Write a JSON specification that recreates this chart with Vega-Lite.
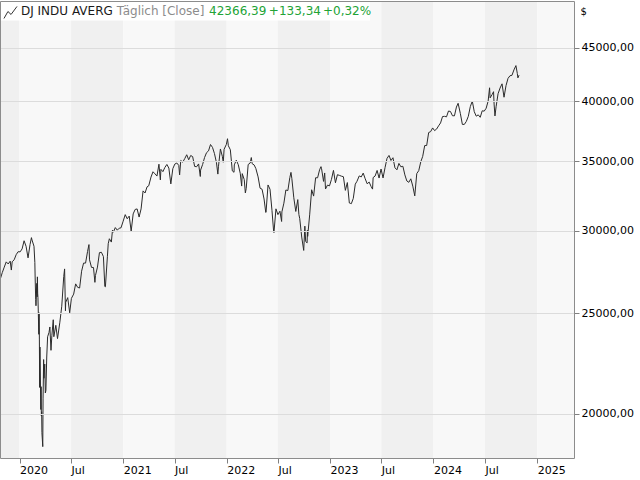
{
  "$schema": "https://vega.github.io/schema/vega-lite/v6.json",
  "width": 574,
  "height": 457,
  "autosize": "none",
  "padding": {"left": 0, "top": 1, "right": 66, "bottom": 22},
  "background": "white",
  "config": {
    "view": {"stroke": null},
    "font": "DejaVu Sans",
    "axis": {"labelFont": "DejaVu Sans", "labelFontSize": 11, "labelColor": "#000000", "titleFont": "DejaVu Sans"}
  },
  "resolve": {"axis": {"x": "independent", "y": "independent"}},
  "layer": [
    {
      "data": {"values": [
        {"s": "2019-07-01", "e": "2020-01-01", "k": "dark"},
        {"s": "2020-01-01", "e": "2020-07-01", "k": "light"},
        {"s": "2020-07-01", "e": "2021-01-01", "k": "dark"},
        {"s": "2021-01-01", "e": "2021-07-01", "k": "light"},
        {"s": "2021-07-01", "e": "2022-01-01", "k": "dark"},
        {"s": "2022-01-01", "e": "2022-07-01", "k": "light"},
        {"s": "2022-07-01", "e": "2023-01-01", "k": "dark"},
        {"s": "2023-01-01", "e": "2023-07-01", "k": "light"},
        {"s": "2023-07-01", "e": "2024-01-01", "k": "dark"},
        {"s": "2024-01-01", "e": "2024-07-01", "k": "light"},
        {"s": "2024-07-01", "e": "2025-01-01", "k": "dark"},
        {"s": "2025-01-01", "e": "2025-07-01", "k": "light"}
      ]},
      "mark": {"type": "rect", "clip": true},
      "encoding": {
        "x": {"field": "s", "type": "temporal", "axis": null},
        "x2": {"field": "e"},
        "color": {"field": "k", "type": "nominal", "scale": {"domain": ["dark", "light"], "range": ["#f0f0f0", "#f8f8f8"]}, "legend": null}
      }
    },
    {
      "data": {"values": [{"a": "2019-10-01", "b": "2023-05-22", "lo": 47820, "hi": 60000}]},
      "mark": {"type": "rect", "clip": true, "color": "white"},
      "encoding": {
        "x": {"field": "a", "type": "temporal", "axis": null},
        "x2": {"field": "b"},
        "y": {"field": "lo", "type": "quantitative", "axis": null},
        "y2": {"field": "hi"}
      }
    },
    {
      "data": {"values": [
        {"d":"2019-10-24","v":26806},{"d":"2019-10-25","v":26958},{"d":"2019-11-01","v":27347},{"d":"2019-11-08","v":27681},
        {"d":"2019-11-15","v":28005},{"d":"2019-11-22","v":27876},{"d":"2019-11-29","v":28051},{"d":"2019-12-03","v":27503},
        {"d":"2019-12-06","v":28015},{"d":"2019-12-13","v":28135},{"d":"2019-12-20","v":28455},{"d":"2019-12-27","v":28645},
        {"d":"2020-01-03","v":28634},{"d":"2020-01-10","v":28824},{"d":"2020-01-17","v":29348},{"d":"2020-01-24","v":28990},
        {"d":"2020-01-31","v":28256},{"d":"2020-02-07","v":29103},{"d":"2020-02-12","v":29551},{"d":"2020-02-14","v":29398},
        {"d":"2020-02-21","v":28992},{"d":"2020-02-24","v":27961},{"d":"2020-02-25","v":27081},{"d":"2020-02-27","v":25767},
        {"d":"2020-02-28","v":25409},{"d":"2020-03-02","v":26703},{"d":"2020-03-03","v":25918},{"d":"2020-03-04","v":27091},
        {"d":"2020-03-05","v":26121},{"d":"2020-03-06","v":25865},{"d":"2020-03-09","v":23851},{"d":"2020-03-10","v":25018},
        {"d":"2020-03-11","v":23553},{"d":"2020-03-12","v":21200},{"d":"2020-03-13","v":23186},{"d":"2020-03-16","v":20189},
        {"d":"2020-03-17","v":21237},{"d":"2020-03-18","v":19899},{"d":"2020-03-19","v":20087},{"d":"2020-03-20","v":19174},
        {"d":"2020-03-23","v":18592},{"d":"2020-03-24","v":20704},{"d":"2020-03-26","v":22552},{"d":"2020-03-27","v":21637},
        {"d":"2020-03-30","v":22327},{"d":"2020-04-01","v":20944},{"d":"2020-04-03","v":21053},{"d":"2020-04-06","v":22680},
        {"d":"2020-04-09","v":23719},{"d":"2020-04-14","v":23949},{"d":"2020-04-17","v":24242},{"d":"2020-04-21","v":23019},
        {"d":"2020-04-24","v":23775},{"d":"2020-04-29","v":24634},{"d":"2020-05-01","v":23724},{"d":"2020-05-08","v":24331},
        {"d":"2020-05-14","v":23625},{"d":"2020-05-22","v":24465},{"d":"2020-05-29","v":25383},{"d":"2020-06-05","v":27111},
        {"d":"2020-06-08","v":27572},{"d":"2020-06-11","v":25128},{"d":"2020-06-12","v":25606},{"d":"2020-06-19","v":25871},
        {"d":"2020-06-26","v":25016},{"d":"2020-07-02","v":25827},{"d":"2020-07-10","v":26075},{"d":"2020-07-17","v":26672},
        {"d":"2020-07-24","v":26470},{"d":"2020-07-31","v":26428},{"d":"2020-08-07","v":27433},{"d":"2020-08-14","v":27931},
        {"d":"2020-08-21","v":27930},{"d":"2020-08-28","v":28654},{"d":"2020-09-02","v":29100},{"d":"2020-09-04","v":28133},
        {"d":"2020-09-11","v":27666},{"d":"2020-09-18","v":27657},{"d":"2020-09-23","v":26763},{"d":"2020-09-25","v":27174},
        {"d":"2020-10-02","v":27683},{"d":"2020-10-09","v":28587},{"d":"2020-10-16","v":28606},{"d":"2020-10-23","v":28336},
        {"d":"2020-10-28","v":26520},{"d":"2020-10-30","v":26502},{"d":"2020-11-06","v":28323},{"d":"2020-11-09","v":29158},
        {"d":"2020-11-13","v":29480},{"d":"2020-11-20","v":29263},{"d":"2020-11-24","v":30046},{"d":"2020-11-27","v":29910},
        {"d":"2020-12-04","v":30218},{"d":"2020-12-11","v":30046},{"d":"2020-12-18","v":30179},{"d":"2020-12-24","v":30200},
        {"d":"2020-12-31","v":30606},{"d":"2021-01-08","v":31098},{"d":"2021-01-15","v":30814},{"d":"2021-01-22","v":30997},
        {"d":"2021-01-29","v":29983},{"d":"2021-02-05","v":31148},{"d":"2021-02-12","v":31458},{"d":"2021-02-19","v":31494},
        {"d":"2021-02-26","v":30932},{"d":"2021-03-05","v":31496},{"d":"2021-03-12","v":32779},{"d":"2021-03-19","v":32628},
        {"d":"2021-03-26","v":33072},{"d":"2021-04-01","v":33153},{"d":"2021-04-09","v":33801},{"d":"2021-04-16","v":34200},
        {"d":"2021-04-23","v":34043},{"d":"2021-04-30","v":33875},{"d":"2021-05-07","v":34778},{"d":"2021-05-12","v":33587},
        {"d":"2021-05-14","v":34382},{"d":"2021-05-21","v":34208},{"d":"2021-05-28","v":34529},{"d":"2021-06-04","v":34756},
        {"d":"2021-06-11","v":34480},{"d":"2021-06-18","v":33290},{"d":"2021-06-25","v":34433},{"d":"2021-07-02","v":34786},
        {"d":"2021-07-09","v":34870},{"d":"2021-07-16","v":34688},{"d":"2021-07-19","v":33962},{"d":"2021-07-23","v":35062},
        {"d":"2021-07-30","v":34935},{"d":"2021-08-06","v":35209},{"d":"2021-08-13","v":35515},{"d":"2021-08-20","v":35120},
        {"d":"2021-08-27","v":35455},{"d":"2021-09-03","v":35369},{"d":"2021-09-10","v":34608},{"d":"2021-09-17","v":34584},
        {"d":"2021-09-24","v":34798},{"d":"2021-09-30","v":33844},{"d":"2021-10-01","v":34326},{"d":"2021-10-08","v":34746},
        {"d":"2021-10-15","v":35295},{"d":"2021-10-22","v":35677},{"d":"2021-10-29","v":35820},{"d":"2021-11-05","v":36328},
        {"d":"2021-11-12","v":36100},{"d":"2021-11-19","v":35602},{"d":"2021-11-26","v":34899},{"d":"2021-12-01","v":34022},
        {"d":"2021-12-03","v":34580},{"d":"2021-12-10","v":35971},{"d":"2021-12-17","v":35365},{"d":"2021-12-20","v":34932},
        {"d":"2021-12-23","v":35951},{"d":"2021-12-31","v":36338},{"d":"2022-01-04","v":36799},{"d":"2022-01-07","v":36231},
        {"d":"2022-01-14","v":35912},{"d":"2022-01-21","v":34265},{"d":"2022-01-27","v":34160},{"d":"2022-01-28","v":34725},
        {"d":"2022-02-04","v":35089},{"d":"2022-02-11","v":34738},{"d":"2022-02-18","v":34079},{"d":"2022-02-23","v":33131},
        {"d":"2022-02-25","v":34058},{"d":"2022-03-04","v":33614},{"d":"2022-03-08","v":32633},{"d":"2022-03-11","v":32944},
        {"d":"2022-03-18","v":34755},{"d":"2022-03-25","v":34861},{"d":"2022-03-29","v":35294},{"d":"2022-04-01","v":34818},
        {"d":"2022-04-08","v":34721},{"d":"2022-04-14","v":34451},{"d":"2022-04-22","v":33811},{"d":"2022-04-29","v":32977},
        {"d":"2022-05-06","v":32899},{"d":"2022-05-13","v":32196},{"d":"2022-05-19","v":31253},{"d":"2022-05-20","v":31262},
        {"d":"2022-05-27","v":33213},{"d":"2022-06-03","v":32899},{"d":"2022-06-10","v":31393},{"d":"2022-06-16","v":29927},
        {"d":"2022-06-17","v":29888},{"d":"2022-06-24","v":31501},{"d":"2022-07-01","v":31097},{"d":"2022-07-08","v":31338},
        {"d":"2022-07-14","v":30630},{"d":"2022-07-15","v":31289},{"d":"2022-07-22","v":31899},{"d":"2022-07-29","v":32845},
        {"d":"2022-08-05","v":32803},{"d":"2022-08-12","v":33761},{"d":"2022-08-16","v":34152},{"d":"2022-08-19","v":33707},
        {"d":"2022-08-26","v":32283},{"d":"2022-09-02","v":31318},{"d":"2022-09-09","v":32152},{"d":"2022-09-13","v":31105},
        {"d":"2022-09-16","v":30822},{"d":"2022-09-23","v":29590},{"d":"2022-09-30","v":28726},{"d":"2022-10-04","v":30316},
        {"d":"2022-10-07","v":29297},{"d":"2022-10-12","v":29211},{"d":"2022-10-13","v":30039},{"d":"2022-10-14","v":29635},
        {"d":"2022-10-21","v":31083},{"d":"2022-10-28","v":32862},{"d":"2022-11-04","v":32403},{"d":"2022-11-11","v":33748},
        {"d":"2022-11-18","v":33746},{"d":"2022-11-25","v":34347},{"d":"2022-11-30","v":34590},{"d":"2022-12-02","v":34430},
        {"d":"2022-12-09","v":33477},{"d":"2022-12-13","v":34109},{"d":"2022-12-16","v":32920},{"d":"2022-12-23","v":33204},
        {"d":"2022-12-30","v":33147},{"d":"2023-01-06","v":33631},{"d":"2023-01-13","v":34303},{"d":"2023-01-20","v":33375},
        {"d":"2023-01-27","v":33978},{"d":"2023-02-03","v":33926},{"d":"2023-02-10","v":33869},{"d":"2023-02-17","v":33827},
        {"d":"2023-02-24","v":32817},{"d":"2023-03-03","v":33391},{"d":"2023-03-10","v":31910},{"d":"2023-03-15","v":31875},
        {"d":"2023-03-17","v":31862},{"d":"2023-03-24","v":32238},{"d":"2023-03-31","v":33274},{"d":"2023-04-06","v":33485},
        {"d":"2023-04-14","v":33886},{"d":"2023-04-21","v":33809},{"d":"2023-04-28","v":34098},{"d":"2023-05-05","v":33674},
        {"d":"2023-05-12","v":33300},{"d":"2023-05-19","v":33427},{"d":"2023-05-26","v":33093},{"d":"2023-05-31","v":32908},
        {"d":"2023-06-02","v":33762},{"d":"2023-06-09","v":33877},{"d":"2023-06-16","v":34299},{"d":"2023-06-23","v":33727},
        {"d":"2023-06-30","v":34408},{"d":"2023-07-07","v":33734},{"d":"2023-07-14","v":34509},{"d":"2023-07-21","v":35228},
        {"d":"2023-07-28","v":35459},{"d":"2023-08-04","v":35066},{"d":"2023-08-11","v":35281},{"d":"2023-08-18","v":34501},
        {"d":"2023-08-25","v":34347},{"d":"2023-09-01","v":34838},{"d":"2023-09-08","v":34577},{"d":"2023-09-15","v":34618},
        {"d":"2023-09-22","v":33964},{"d":"2023-09-29","v":33508},{"d":"2023-10-06","v":33408},{"d":"2023-10-13","v":33670},
        {"d":"2023-10-20","v":33127},{"d":"2023-10-27","v":32418},{"d":"2023-11-03","v":34061},{"d":"2023-11-10","v":34283},
        {"d":"2023-11-17","v":34947},{"d":"2023-11-24","v":35390},{"d":"2023-12-01","v":36246},{"d":"2023-12-08","v":36248},
        {"d":"2023-12-15","v":37306},{"d":"2023-12-22","v":37385},{"d":"2023-12-29","v":37690},{"d":"2024-01-05","v":37466},
        {"d":"2024-01-12","v":37593},{"d":"2024-01-19","v":37863},{"d":"2024-01-26","v":38109},{"d":"2024-02-02","v":38654},
        {"d":"2024-02-09","v":38672},{"d":"2024-02-16","v":38628},{"d":"2024-02-23","v":39131},{"d":"2024-03-01","v":39087},
        {"d":"2024-03-08","v":38723},{"d":"2024-03-15","v":38715},{"d":"2024-03-22","v":39476},{"d":"2024-03-28","v":39807},
        {"d":"2024-04-05","v":38904},{"d":"2024-04-12","v":37983},{"d":"2024-04-19","v":37986},{"d":"2024-04-26","v":38240},
        {"d":"2024-05-03","v":38676},{"d":"2024-05-10","v":39513},{"d":"2024-05-17","v":40004},{"d":"2024-05-24","v":39070},
        {"d":"2024-05-31","v":38686},{"d":"2024-06-07","v":38799},{"d":"2024-06-14","v":38589},{"d":"2024-06-21","v":39150},
        {"d":"2024-06-28","v":39119},{"d":"2024-07-05","v":39376},{"d":"2024-07-12","v":40001},{"d":"2024-07-17","v":41198},
        {"d":"2024-07-19","v":40288},{"d":"2024-07-26","v":40589},{"d":"2024-07-31","v":40843},{"d":"2024-08-02","v":39737},
        {"d":"2024-08-05","v":38703},{"d":"2024-08-09","v":39498},{"d":"2024-08-16","v":40660},{"d":"2024-08-23","v":41175},
        {"d":"2024-08-30","v":41563},{"d":"2024-09-06","v":40345},{"d":"2024-09-13","v":41394},{"d":"2024-09-20","v":42063},
        {"d":"2024-09-27","v":42313},{"d":"2024-10-04","v":42353},{"d":"2024-10-11","v":42864},{"d":"2024-10-18","v":43276},
        {"d":"2024-10-23","v":42515},{"d":"2024-10-25","v":42114},{"d":"2024-10-29","v":42366}
      ]},
      "mark": {"type": "line", "color": "#2b2b2b", "strokeWidth": 1, "clip": true},
      "encoding": {
        "x": {
          "field": "d", "type": "temporal",
          "scale": {"type": "utc", "domain": [{"year": 2019, "month": 10, "date": 24, "utc": true}, {"year": 2025, "month": 5, "date": 11, "utc": true}]},
          "axis": {
            "title": null, "domain": true, "domainColor": "#8c8c8c", "grid": false, "zindex": 1,
            "values": [
              {"year": 2020, "month": 1, "date": 1, "utc": true}, {"year": 2020, "month": 7, "date": 1, "utc": true},
              {"year": 2021, "month": 1, "date": 1, "utc": true}, {"year": 2021, "month": 7, "date": 1, "utc": true},
              {"year": 2022, "month": 1, "date": 1, "utc": true}, {"year": 2022, "month": 7, "date": 1, "utc": true},
              {"year": 2023, "month": 1, "date": 1, "utc": true}, {"year": 2023, "month": 7, "date": 1, "utc": true},
              {"year": 2024, "month": 1, "date": 1, "utc": true}, {"year": 2024, "month": 7, "date": 1, "utc": true},
              {"year": 2025, "month": 1, "date": 1, "utc": true}
            ],
            "labelExpr": "utcmonth(datum.value) == 0 ? utcFormat(datum.value, '%Y') : 'Jul'",
            "labelAlign": "left", "labelFlush": false, "labelOverlap": false,
            "tickSize": 5, "tickColor": "#808080", "labelPadding": 1
          }
        },
        "y": {
          "field": "v", "type": "quantitative",
          "scale": {"type": "log", "domain": [18130, 49940], "nice": false, "zero": false},
          "axis": {
            "orient": "right", "domain": true, "domainColor": "#8c8c8c", "grid": true, "gridColor": "#dcdcdc", "zindex": 1,
            "values": [20000, 25000, 30000, 35000, 40000, 45000],
            "labelExpr": "replace(format(datum.value, '.2f'), '.', ',')",
            "tickSize": 5, "tickColor": "#808080", "labelPadding": 2,
            "title": "$", "titleAngle": 0, "titleAlign": "left", "titleBaseline": "middle",
            "titleX": 6, "titleY": 10, "titleFontSize": 10, "titleFontWeight": "normal"
          }
        }
      }
    },
    {
      "data": {"values": [
        {"d": "2019-11-07", "v": 48040},
        {"d": "2019-11-21", "v": 48790},
        {"d": "2019-12-02", "v": 48470},
        {"d": "2019-12-23", "v": 49340}
      ]},
      "mark": {"type": "line", "color": "#333333", "strokeWidth": 1, "clip": true},
      "encoding": {
        "x": {"field": "d", "type": "temporal", "axis": null},
        "y": {"field": "v", "type": "quantitative", "axis": null}
      }
    },
    {
      "data": {"values": [
        {"t": "DJ INDU AVERG", "d": "2020-01-06", "c": "#1a1a1a"},
        {"t": "Täglich [Close]", "d": "2020-12-09", "c": "#8c8c8c"},
        {"t": "42366,39", "d": "2021-10-31", "c": "#22a336"},
        {"t": "+133,34", "d": "2022-05-30", "c": "#22a336"},
        {"t": "+0,32%", "d": "2022-12-07", "c": "#22a336"}
      ]},
      "mark": {"type": "text", "align": "left", "baseline": "middle", "fontSize": 12, "font": "DejaVu Sans"},
      "encoding": {
        "x": {"field": "d", "type": "temporal", "axis": {"orient": "top", "labels": false, "ticks": false, "grid": false, "domain": true, "domainColor": "#8c8c8c", "title": null, "zindex": 1}},
        "y": {"datum": 48890, "type": "quantitative", "axis": {"orient": "left", "labels": false, "ticks": false, "grid": false, "domain": true, "domainColor": "#8c8c8c", "title": null, "zindex": 1}},
        "text": {"field": "t"},
        "color": {"field": "c", "type": "nominal", "scale": null}
      }
    }
  ]
}
